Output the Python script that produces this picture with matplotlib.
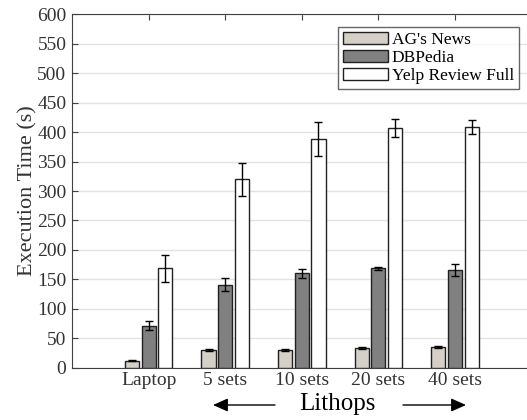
import numpy as np
import matplotlib
matplotlib.use('Agg')
import matplotlib.pyplot as plt

plt.rcParams['font.family'] = 'Liberation Serif'

# execution times (seconds)
groups = ['Laptop', '5 sets', '10 sets', '20 sets', '40 sets']
series = ["AG's News", 'DBPedia', 'Yelp Review Full']
ag_news = [12, 29.5, 30, 33.5, 35.5]
ag_err = [1, 1.5, 2, 1.5, 2]
dbpedia = [71, 141, 160, 168.5, 166]
db_err = [7.5, 11.5, 8, 2, 10]
yelp = [169, 320, 388, 407, 408]
yelp_err = [23, 28, 29, 14.5, 12]

colors = ['#d4d0c8', '#808080', '#ffffff']
axcol = '#404040'

fig = plt.figure(figsize=(5.27, 4.2), dpi=100)
ax = fig.add_axes([72/527, 52.3/420, 459.6/527, 353.4/420])

x = np.arange(1, len(groups) + 1)
w = 0.183
off = 0.218
vals = [ag_news, dbpedia, yelp]
errs = [ag_err, db_err, yelp_err]
for i in range(3):
    ax.bar(x + (i - 1)*off, vals[i], w, color=colors[i], edgecolor='#202020',
           linewidth=1, label=series[i], zorder=3)
    ax.errorbar(x + (i - 1)*off, vals[i], yerr=errs[i], fmt='none',
                ecolor='black', elinewidth=1, capsize=3, capthick=1, zorder=4)

ax.set_xlim(0, 6)
ax.set_ylim(0, 600)
ax.set_yticks(np.arange(0, 601, 50))
ax.set_xticks(x)
ax.set_xticklabels(groups)
ax.yaxis.grid(True, color='#e3e3e3', linewidth=1, zorder=0)
ax.set_axisbelow(True)
ax.tick_params(axis='both', direction='in', length=4, colors=axcol,
               labelsize=14, labelcolor='#333333', top=True, bottom=False)
ax.tick_params(axis='x', pad=3)
ax.tick_params(axis='y', pad=4)
for s in ['left', 'bottom', 'top', 'right']:
    ax.spines[s].set_color(axcol)
ax.set_ylabel('Execution Time (s)', fontsize=16, labelpad=0, color='#333333')

leg = ax.legend(loc='upper right', bbox_to_anchor=((519-72)/459.6, (367.7-26.7)/353.4),
                fontsize=12.5, frameon=True, fancybox=False, borderpad=0.3,
                handlelength=2.6, handletextpad=0.2, labelspacing=0.1,
                borderaxespad=0)
leg.get_frame().set_edgecolor(axcol)
leg.get_frame().set_linewidth(1)

# Lithops arrows under the x labels
ap = dict(arrowstyle='-|>,head_length=0.9,head_width=0.4', color='black',
          lw=1, shrinkA=0, shrinkB=0)
ax.annotate('', xy=(213, 15), xytext=(275, 15), xycoords='figure pixels',
            textcoords='figure pixels', arrowprops=ap, annotation_clip=False)
ax.annotate('', xy=(466, 15), xytext=(403, 15), xycoords='figure pixels',
            textcoords='figure pixels', arrowprops=ap, annotation_clip=False)
fig.text(337/527, 16/420, 'Lithops', fontsize=18, ha='center', va='center')

fig.savefig('out.png', dpi=100)
